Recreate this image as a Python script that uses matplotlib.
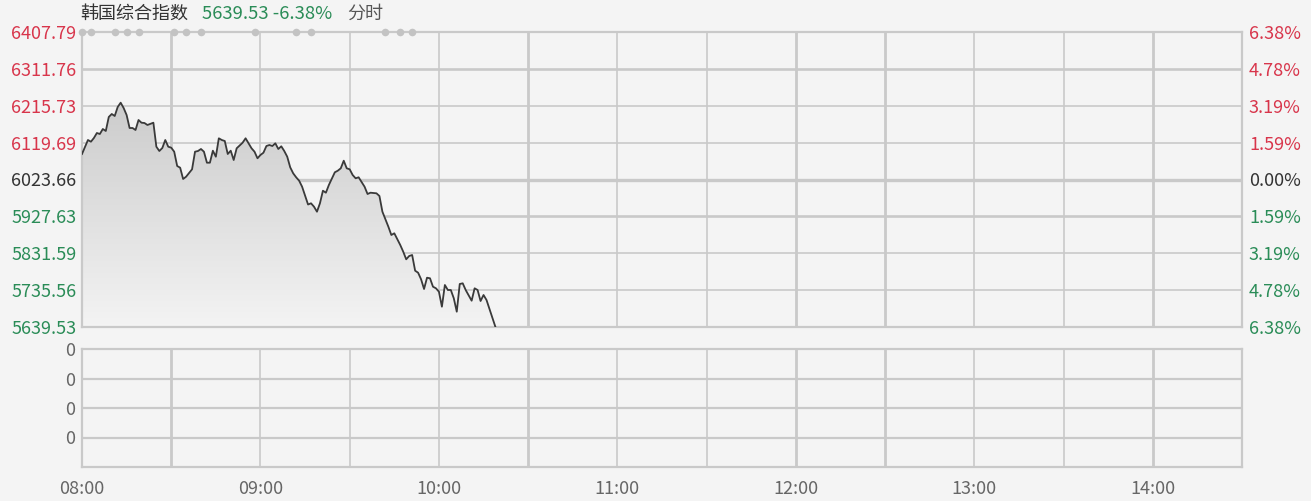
import matplotlib
matplotlib.use("Agg")
import matplotlib.pyplot as plt
import numpy as np

plt.rcParams['font.family'] = ['Noto Sans CJK SC', 'DejaVu Sans']
plt.rcParams['font.weight'] = 'light'

# ---------------- data ----------------
title_name = "韩国综合指数"
title_price = "5639.53 -6.38%"
title_mode = "分时"

prev_close = 6023.66
price_levels = [6407.79, 6311.76, 6215.73, 6119.69, 6023.66, 5927.63, 5831.59, 5735.56, 5639.53]
pct_labels = ["6.38%", "4.78%", "3.19%", "1.59%", "0.00%", "1.59%", "3.19%", "4.78%", "6.38%"]

# minutes after 08:00
minutes = [0, 2, 3, 4, 5, 6, 7, 8, 9, 10,
           11, 12, 13, 14, 15, 16, 17, 18, 19, 20,
           21, 22, 24, 25, 26, 27, 28, 29, 30, 31,
           32, 33, 34, 35, 37, 38, 39, 40, 41, 42,
           43, 44, 45, 46, 47, 48, 49, 50, 51, 52,
           54, 55, 56, 57, 58, 59, 60, 61, 62, 63,
           64, 65, 66, 67, 68, 69, 70, 71, 72, 73,
           74, 76, 77, 78, 79, 80, 81, 82, 83, 85,
           86, 87, 88, 89, 90, 91, 92, 93, 95, 96,
           97, 99, 100, 101, 103, 104, 105, 107, 108, 109,
           110, 111, 112, 113, 114, 115, 116, 117, 118, 119,
           120, 121, 122, 123, 124, 125, 126, 127, 128, 129,
           131, 132, 133, 134, 135, 136, 139]

prices = [6090.07, 6126.53, 6122.10, 6131.74, 6144.76, 6142.16, 6155.18, 6149.97, 6186.43, 6194.24,
          6189.03, 6212.47, 6223.67, 6209.87, 6191.64, 6157.78, 6157.78, 6152.57, 6178.62, 6171.58,
          6170.80, 6165.59, 6171.58, 6109.08, 6097.88, 6105.70, 6126.53, 6109.08, 6106.48, 6096.06,
          6058.82, 6054.39, 6024.96, 6030.95, 6050.22, 6096.06, 6097.88, 6103.09, 6096.06, 6067.41,
          6067.41, 6098.66, 6083.04, 6130.96, 6126.53, 6123.93, 6090.07, 6098.66, 6074.44, 6104.91,
          6119.50, 6130.96, 6117.94, 6104.91, 6096.06, 6078.87, 6087.47, 6093.46, 6110.90, 6113.51,
          6110.90, 6117.94, 6103.09, 6110.12, 6097.88, 6083.04, 6055.43, 6039.81, 6029.39, 6020.53,
          6004.91, 5958.55, 5961.68, 5952.82, 5939.80, 5961.68, 5994.49, 5989.28, 6009.34, 6042.41,
          6046.58, 6052.83, 6072.62, 6052.83, 6050.22, 6035.38, 6026.79, 6029.39, 6004.91, 5985.90,
          5989.28, 5987.72, 5980.69, 5939.80, 5900.74, 5879.12, 5883.55, 5853.08, 5835.63, 5815.84,
          5824.43, 5827.04, 5786.15, 5780.94, 5763.75, 5738.49, 5767.92, 5766.36, 5744.48, 5740.31,
          5731.46, 5692.39, 5748.91, 5735.88, 5735.88, 5714.27, 5679.37, 5751.51, 5753.33, 5735.88,
          5708.02, 5740.31, 5735.88, 5707.24, 5722.86, 5709.84, 5639.53]

event_minutes = [0, 3, 11, 15, 19, 31, 35, 40, 58, 72, 77, 102, 107, 111]

volume_labels = ["0", "0", "0", "0"]

time_ticks = [0, 60, 120, 180, 240, 300, 360]
time_labels = ["08:00", "09:00", "10:00", "11:00", "12:00", "13:00", "14:00"]
session_minutes = 390

# ---------------- style ----------------
BG = "#f4f4f4"
GRID = "#c9c9c9"
RED = "#d8354b"
GREEN = "#2a8c57"
DARK = "#333333"
LABEL = "#666666"

W, H = 1311, 501
fig = plt.figure(figsize=(W / 100, H / 100), dpi=100, facecolor=BG)

def frac_rect(x0, y0, x1, y1):
    return [x0 / W, 1 - y1 / H, (x1 - x0) / W, (y1 - y0) / H]

ax = fig.add_axes(frac_rect(82, 32, 1242, 327))
axv = fig.add_axes(frac_rect(82, 349, 1242, 467))

for a in (ax, axv):
    a.set_facecolor(BG)
    a.set_xlim(0, session_minutes)
    for s in a.spines.values():
        s.set_color(GRID)
        s.set_linewidth(1.6)
    a.tick_params(length=0)
    thick_v = [30, 150, 240, 270, 360]
    for m in range(30, session_minutes, 30):
        a.axvline(m, color=GRID, lw=2.0 if m in thick_v else 1.2, zorder=1)

# upper panel
ymin, ymax = price_levels[-1], price_levels[0]
ax.set_ylim(ymin, ymax)
for i, lv in enumerate(price_levels[1:-1], start=1):
    lw = 2.4 if lv == prev_close else (1.9 if i in (1, 5) else 1.2)
    ax.axhline(lv, color=GRID, lw=lw, zorder=1)

ax.set_yticks(price_levels)
ax.set_yticklabels([f"{v:.2f}" for v in price_levels], fontsize=13)
for i, t in enumerate(ax.get_yticklabels()):
    t.set_color(RED if i < 4 else (DARK if i == 4 else GREEN))
ax.tick_params(axis='y', pad=4)
ax.set_xticks([])

axr = ax.twinx()
axr.set_ylim(ymin, ymax)
axr.set_yticks(price_levels)
axr.set_yticklabels(pct_labels, fontsize=13)
for i, t in enumerate(axr.get_yticklabels()):
    t.set_color(RED if i < 4 else (DARK if i == 4 else GREEN))
axr.tick_params(length=0, pad=5)
for s in axr.spines.values():
    s.set_visible(False)

# gradient area under the line
x = np.array(minutes, dtype=float)
y = np.array(prices)
poly = ax.fill_between(x, y, ymin, facecolor='none', edgecolor='none', zorder=2)
grad = np.linspace(0.80, 0.955, 256).reshape(-1, 1)
img = ax.imshow(np.dstack([grad, grad, grad]), aspect='auto',
                extent=[0, x.max(), ymin, max(prices)], origin='upper', zorder=2)
img.set_clip_path(poly.get_paths()[0], transform=ax.transData)
ax.plot(x, y, color="#3a3a3a", lw=1.3, zorder=3)

# event markers on top border
ax.scatter(event_minutes, [ymax] * len(event_minutes), s=30, color="#c3c3c3",
           marker='o', zorder=4, clip_on=False, linewidths=0)

# lower panel
axv.set_ylim(0, 4)
for lv in (1, 2, 3):
    axv.axhline(lv, color=GRID, lw=1.6, zorder=1)
axv.set_yticks([4, 3, 2, 1])
axv.set_yticklabels(volume_labels, fontsize=13, color=LABEL)
axv.tick_params(axis='y', pad=5)
axv.set_xticks(time_ticks)
axv.set_xticklabels(time_labels, fontsize=13, color=LABEL)
axv.tick_params(axis='x', pad=9)

# header
fig.text(80 / W, 1 - 14 / H, title_name, fontsize=13, color=DARK, va='center', ha='left')
fig.text(202 / W, 1 - 14 / H, title_price, fontsize=13.3, color=GREEN, va='center', ha='left')
fig.text(347 / W, 1 - 14 / H, title_mode, fontsize=13, color="#555555", va='center', ha='left')

fig.savefig("out.png", dpi=100, facecolor=BG)
